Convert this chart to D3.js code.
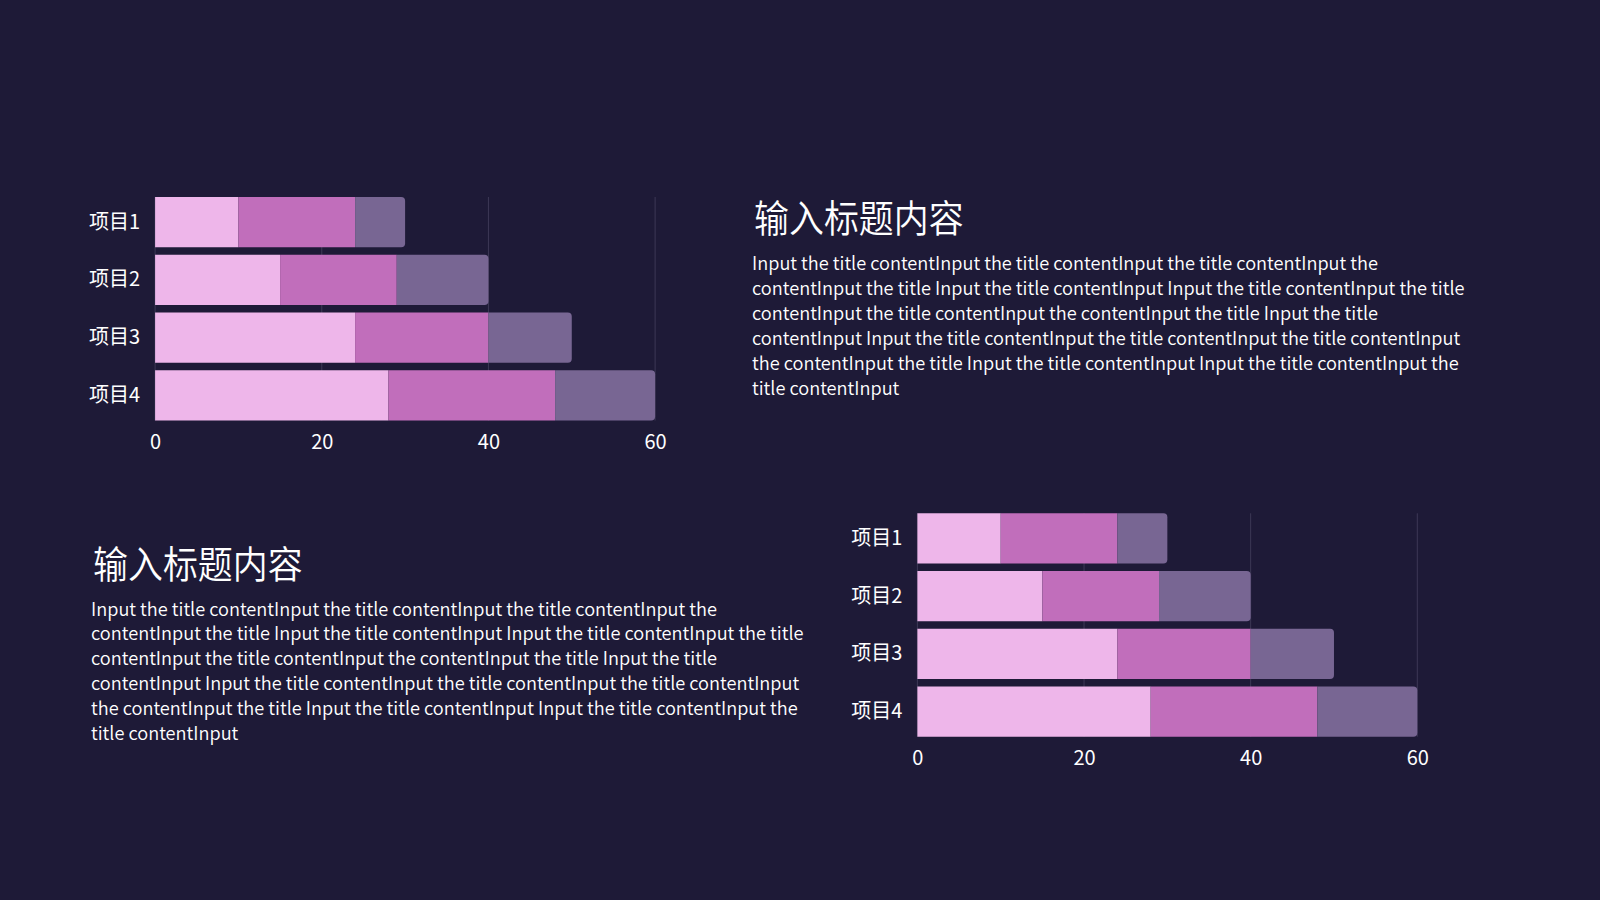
<!DOCTYPE html>
<html>
<head>
<meta charset="utf-8">
<script src="https://cdn.jsdelivr.net/npm/d3@7"></script>
<style>
  html, body { margin: 0; padding: 0; background: #1e1a37; }
  svg { display: block; }
  text { font-family: "Noto Sans CJK SC", "Noto Sans", sans-serif; }
</style>
</head>
<body>
<svg id="chart" width="1600" height="900"></svg>
<script>
// ---- data ----
const categories = ["项目1", "项目2", "项目3", "项目4"];
const series1 = [10, 15, 24, 28];
const series2 = [14, 14, 16, 20];
const series3 = [6, 11, 10, 12];
const xTicks = [0, 20, 40, 60];
const colors = ["#eeb6ea", "#c16ebb", "#786693"];
const titleText = "输入标题内容";
const bodyLines = [
  "Input the title contentInput the title contentInput the title contentInput the",
  "contentInput the title Input the title contentInput Input the title contentInput the title",
  "contentInput the title contentInput the contentInput the title Input the title",
  "contentInput Input the title contentInput the title contentInput the title contentInput",
  "the contentInput the title Input the title contentInput Input the title contentInput the",
  "title contentInput"
];

const svg = d3.select("#chart");
svg.append("rect").attr("width", 1600).attr("height", 900).attr("fill", "#1e1a37");

const seriesList = [series1, series2, series3];
const rows = categories.map((c, i) => {
  const o = { cat: c };
  seriesList.forEach((s, j) => o["s" + j] = s[i]);
  return o;
});
const stack = d3.stack().keys(["s0", "s1", "s2"])(rows);

function roundRightPath(x0, x1, y, h, r) {
  r = Math.min(r, (x1 - x0) / 2, h / 2);
  return `M${x0},${y}H${x1 - r}Q${x1},${y} ${x1},${y + r}V${y + h - r}Q${x1},${y + h} ${x1 - r},${y + h}H${x0}Z`;
}

function drawChart(left, right, top, bottom) {
  const g = svg.append("g");
  const x = d3.scaleLinear().domain([0, 60]).range([left, right]);
  const y = d3.scaleBand().domain(categories).range([top, bottom]).paddingInner(0.13).paddingOuter(0);

  // gridlines
  g.selectAll("line.grid").data(xTicks).join("line")
    .attr("x1", d => x(d)).attr("x2", d => x(d))
    .attr("y1", top).attr("y2", bottom)
    .attr("stroke", "#3d3856").attr("stroke-width", 1);

  // bars
  stack.forEach((layer, li) => {
    g.selectAll("path.s" + li).data(layer).join("path")
      .attr("d", d => {
        const x0 = x(d[0]), x1 = x(d[1]), yy = y(d.data.cat), h = y.bandwidth();
        if (li === stack.length - 1) return roundRightPath(x0, x1, yy, h, 4);
        return `M${x0},${yy}H${x1}V${yy + h}H${x0}Z`;
      })
      .attr("fill", colors[li]);
  });

  // y axis labels
  const ya = d3.axisLeft(y).tickSize(0).tickPadding(15);
  const yg = g.append("g").attr("transform", `translate(${left},0)`).call(ya);
  yg.select(".domain").remove();
  yg.selectAll("text").attr("fill", "#ffffff").attr("font-size", 20)
    .style("font-family", '"Noto Sans CJK SC", sans-serif');

  // x axis labels
  const xa = d3.axisBottom(x).tickValues(xTicks).tickSize(0).tickPadding(14);
  const xg = g.append("g").attr("transform", `translate(0,${bottom})`).call(xa);
  xg.select(".domain").remove();
  xg.selectAll("text").attr("fill", "#ffffff").attr("font-size", 20)
    .style("font-family", '"Noto Sans CJK SC", sans-serif');
}

function drawText(tx, ty, bx, by) {
  svg.append("text")
    .attr("transform", `translate(${tx},${ty}) scale(0.92,1)`)
    .attr("fill", "#ffffff").attr("font-size", 38).attr("font-weight", 350)
    .text(titleText);
  const t = svg.append("text")
    .attr("transform", `translate(${bx},${by}) scale(0.983,1)`)
    .attr("fill", "#ffffff").attr("font-size", 18.5).attr("font-weight", 350);
  t.selectAll("tspan").data(bodyLines).join("tspan")
    .attr("x", 0).attr("y", (d, i) => i * 25)
    .text(d => d);
}

drawChart(155.1, 655.1, 197, 420.5);
drawChart(917.4, 1417.3, 513.3, 736.7);
drawText(754, 232, 752, 270);
drawText(93, 578, 91, 615.5);
</script>
</body>
</html>
